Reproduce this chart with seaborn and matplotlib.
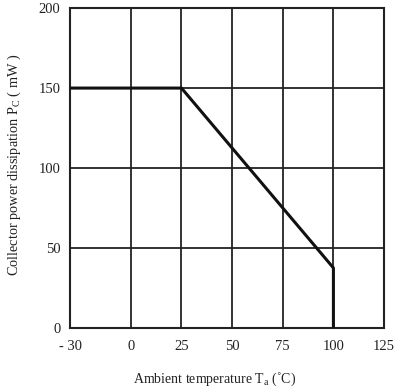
import matplotlib
matplotlib.use("Agg")
import matplotlib.pyplot as plt
import seaborn as sns
import pandas as pd

# Derating curve: collector power dissipation vs ambient temperature
temperature = [-30, 25, 100, 100]
power = [150, 150, 37.5, 0]

x_ticks = [-30, 0, 25, 50, 75, 100, 125]
x_tick_labels = ["- 30", "0", "25", "50", "75", "100", "125"]
y_ticks = [0, 50, 100, 150, 200]

sns.set_theme(style="white")
plt.rcParams["font.family"] = ["Liberation Serif", "DejaVu Serif"]
plt.rcParams["mathtext.fontset"] = "custom"
plt.rcParams["mathtext.rm"] = "Liberation Serif"

df = pd.DataFrame({"T": temperature, "P": power})

fig = plt.figure(figsize=(3.98, 3.88), dpi=100)
ax = fig.add_axes([0.176, 0.155, 0.789, 0.824])

for xv in x_ticks[1:-1]:
    ax.axvline(xv, color="#222222", lw=1.3, zorder=1)
for yv in y_ticks[1:-1]:
    ax.axhline(yv, color="#222222", lw=1.3, zorder=1)

sns.lineplot(data=df, x="T", y="P", sort=False, estimator=None,
             color="#111111", lw=2.2, ax=ax, zorder=3)

ax.set_xlim(-30, 125)
ax.set_ylim(0, 200)
ax.set_xticks(x_ticks)
ax.set_xticklabels(x_tick_labels)
ax.set_yticks(y_ticks)
ax.tick_params(axis="both", length=0, labelsize=10.5, colors="#222222")
ax.tick_params(axis="x", pad=9)
ax.tick_params(axis="y", pad=7)

for s in ax.spines.values():
    s.set_color("#222222")
    s.set_linewidth(1.5)

ax.set_xlabel("Ambient temperature T$_{\\mathrm{a}}$ (˚C)", fontsize=10,
              color="#222222")
ax.xaxis.set_label_coords(0.459, -0.135)
ax.set_ylabel("Collector power dissipation P$_{\\mathrm{C}}$ ( mW )", fontsize=10.3,
              color="#222222")
ax.yaxis.set_label_coords(-0.15, 0.51)

fig.savefig("out.png", dpi=100, facecolor="white")
